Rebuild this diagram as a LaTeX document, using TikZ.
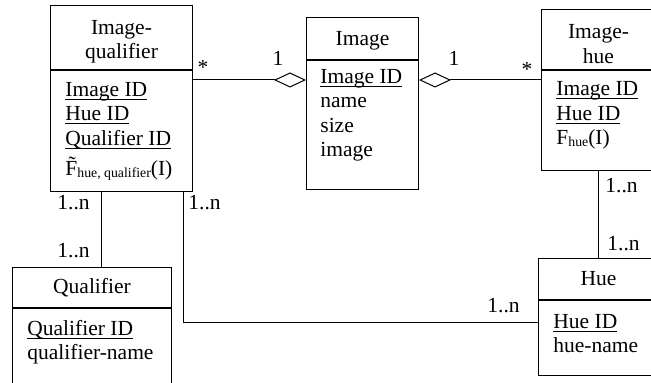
\documentclass[tikz,border=0pt]{standalone}
\usepackage{fontspec}
\setmainfont{Liberation Serif}
\usetikzlibrary{arrows.meta}
\newcommand\uln[1]{\setbox0=\hbox{#1}\rlap{\rule[-1.8pt]{\wd0}{0.5pt}}\box0}
\newcommand\subtxt[1]{\raisebox{-1pt}{\fontsize{6.9}{7}\selectfont #1}}
\tikzset{
  cls/.style={draw, line width=0.5pt, rectangle, inner sep=0pt, anchor=north west, align=center,
    font=\fontsize{10.75}{12.4}\selectfont},
  attr/.style={inner sep=0pt, anchor=base west, align=left, font=\fontsize{10.75}{12.3}\selectfont},
  lbl/.style={inner sep=0pt, anchor=base west, font=\fontsize{10.75}{12.3}\selectfont},
  conn/.style={line width=0.5pt},
  agg/.style={line width=0.5pt, -{Diamond[open,length=16pt,width=7.5pt]}},
  gga/.style={line width=0.5pt, {Diamond[open,length=16pt,width=7.5pt]}-},
}
\begin{document}
\begin{tikzpicture}[x=0.5pt,y=-0.5pt]
\useasboundingbox (0,0) rectangle (651,383);
% Image-qualifier
\node[cls, minimum width=71pt, minimum height=32pt] (iqt) at (50,5) {\rule{0pt}{11.3pt}Image-\\qualifier};
\node[cls, minimum width=71pt, minimum height=60.5pt] (iqb) at (iqt.south west) {};
\node[attr] (iqa) at (65,176) {\uln{Image ID}\\\uln{Hue ID}\\\uln{Qualifier ID}\\[3pt]\~{F}\subtxt{hue, qualifier}(I)};
% Image
\node[cls, minimum width=56pt, minimum height=21pt] (imt) at (306,17) {\rule{0pt}{9pt}Image};
\node[cls, minimum width=56pt, minimum height=64.5pt] (imb) at (imt.south west) {};
\node[attr] (ima) at (320,157) {\uln{Image ID}\\name\\size\\image};
% Image-hue
\node[cls, minimum width=57pt, minimum height=30pt] (iht) at (541,9) {\rule{0pt}{11.3pt}Image-\\hue};
\node[cls, minimum width=57pt, minimum height=50pt] (ihb) at (iht.south west) {};
\node[attr] (iha) at (556,145) {\uln{Image ID}\\\uln{Hue ID}\\F\subtxt{hue}(I)};
% Hue
\node[cls, minimum width=60pt, minimum height=20.5pt] (hut) at (538,258) {Hue};
\node[cls, minimum width=60pt, minimum height=37.5pt] (hub) at (hut.south west) {};
\node[attr] (hua) at (553,353) {\uln{Hue ID}\\hue-name};
% Qualifier
\node[cls, minimum width=79.5pt, minimum height=20pt] (qut) at (12,267) {Qualifier};
\node[cls, minimum width=79.5pt, minimum height=37.5pt] (qub) at (qut.south west) {};
\node[attr] (qua) at (27,360) {\uln{Qualifier ID}\\qualifier-name};
% connectors
\draw[agg] ([yshift=-5pt]iqb.north east) -- ([yshift=-5pt]iqb.north east -| imb.west);
\draw[gga] ([yshift=-10pt]imb.north east) -- ([yshift=-10pt]imb.north east -| ihb.west);
\draw[conn] (ihb.south) -- (hut.north);
\draw[conn] ([xshift=25.5pt]iqb.south west) -- ([xshift=25.5pt]iqb.south west |- qut.north);
\draw[conn] ([xshift=-5pt]iqb.south east) |- ([yshift=-11.5pt]hub.north west);
% labels
\node[lbl, anchor=base] (s1) at (203,75) {*};
\node[lbl, anchor=base] (o1) at (278,66) {1};
\node[lbl, anchor=base] (o2) at (454,66) {1};
\node[lbl, anchor=base] (s2) at (527,77) {*};
\node[lbl] (n1) at (57,210) {1..n};
\node[lbl] (n2) at (57,258) {1..n};
\node[lbl] (n3) at (188,210) {1..n};
\node[lbl] (n4) at (487,313) {1..n};
\node[lbl] (n5) at (605,193) {1..n};
\node[lbl] (n6) at (607,251) {1..n};
\end{tikzpicture}
\end{document}
